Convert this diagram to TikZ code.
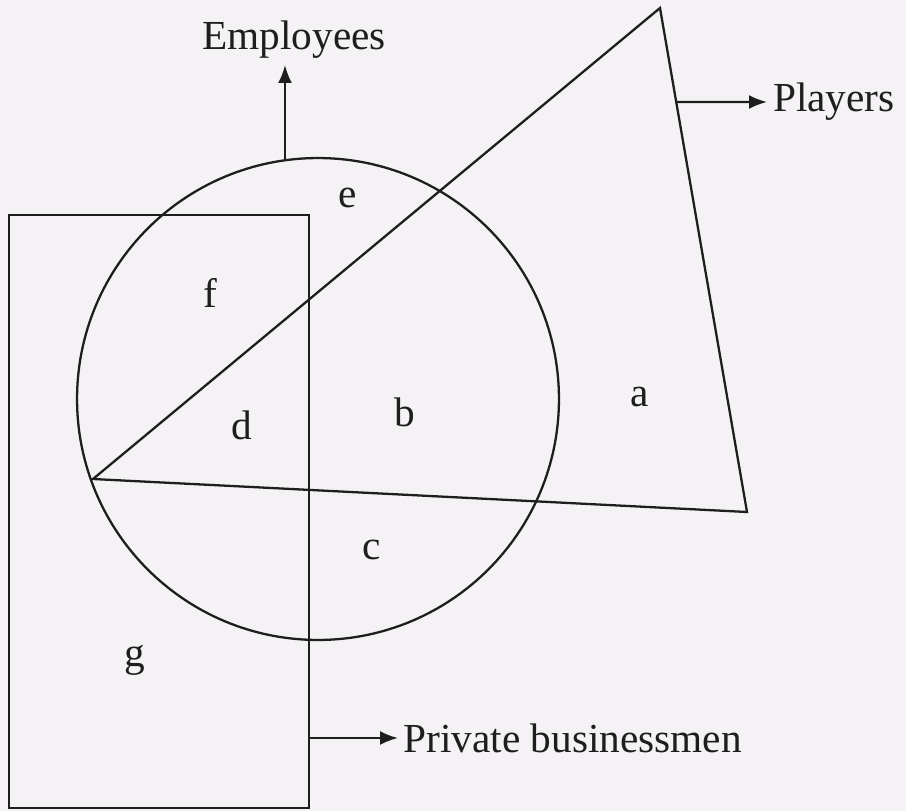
\documentclass[tikz,border=0pt]{standalone}
\usepackage{fontspec}
\setmainfont{Liberation Serif}
\usetikzlibrary{arrows.meta,positioning,calc}
\definecolor{paper}{HTML}{F4F2F4}
\definecolor{ink}{HTML}{1E1E1E}
\tikzset{
  outline/.style={draw=ink,line width=1.3pt},
  pointer/.style={draw=ink,line width=1.3pt,-{Latex[length=3.6mm,width=2.8mm]}},
  setlabel/.style={font=\fontsize{23.5}{28}\selectfont,text=ink},
  regionlabel/.style={font=\fontsize{23.5}{28}\selectfont,text=ink,inner sep=0pt}
}

\begin{document}
\begin{tikzpicture}[x=0.02cm,y=-0.02cm]
  \fill[paper] (0,0) rectangle (906,811);
  \useasboundingbox (0,0) rectangle (906,811);

  % the three sets
  \coordinate (O) at (318,399);
  \draw[outline] (O) circle[radius=4.82cm];

  \coordinate (t1) at (93,479);
  \coordinate (t2) at (660,8);
  \coordinate (t3) at (747,512);
  \draw[outline] (t1)--(t2)--(t3)--cycle;

  \draw[outline] (9,215) rectangle (309,808);

  % set names
  \coordinate (etop) at (285,160);
  \node[setlabel] (emp) at (294,40) {Employees};
  \draw[pointer] (etop) -- (etop |- emp.south);

  \coordinate (tside) at ($(t2)!0.1865!(t3)$);
  \node[setlabel,anchor=west] (ply) at (767,102) {Players};
  \draw[pointer] (tside) -- (ply.west);

  \coordinate (rside) at (309,738);
  \node[setlabel,anchor=west,inner sep=3pt] (biz) at (398,738) {Private businessmen};
  \draw[pointer] (rside) -- (biz.west);

  % regions
  \foreach \lbl/\x/\y in {a/640/397,b/405/412,c/372/550,d/242/425,e/348/198,f/210/293,g/135/660}
    \node[regionlabel] (r\lbl) at (\x,\y) {\lbl};
\end{tikzpicture}
\end{document}
